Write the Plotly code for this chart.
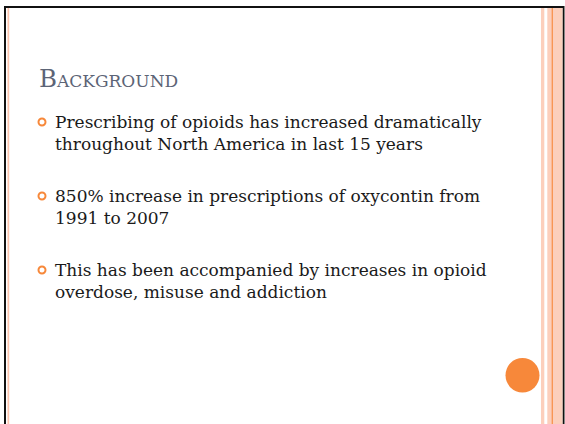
import plotly.graph_objects as go

W, H = 565, 424

title_text = ["Background"]
bullet_lines = [
    ["Prescribing of opioids has increased dramatically", "throughout North America in last 15 years"],
    ["850% increase in prescriptions of oxycontin from", "1991 to 2007"],
    ["This has been accompanied by increases in opioid", "overdose, misuse and addiction"],
]
bullet_y = [122, 196, 270]

ORANGE = "#f7883a"
PINK = "#fccfbc"
TEXT = "#1a1a1a"
TITLE = "#5c6476"
FONT = "DejaVu Serif"

fig = go.Figure()
shapes = []
# page border
shapes.append(dict(type="line", x0=5, x1=5, y0=6, y1=430, line=dict(color="#111", width=2)))
shapes.append(dict(type="line", x0=4, x1=564, y0=7, y1=7, line=dict(color="#111", width=2)))
shapes.append(dict(type="line", x0=563.5, x1=563.5, y0=6, y1=430, line=dict(color="#111", width=2)))
# left pink line
shapes.append(dict(type="rect", x0=7.5, x1=9.2, y0=8, y1=430, fillcolor="#fcc4ae", line=dict(width=0)))
# right stripes
shapes.append(dict(type="rect", x0=541, x1=544.3, y0=8, y1=430, fillcolor=PINK, line=dict(width=0)))
shapes.append(dict(type="rect", x0=547.3, x1=562.5, y0=8, y1=430, fillcolor=PINK, line=dict(width=0)))
shapes.append(dict(type="rect", x0=551.7, x1=552.8, y0=8, y1=430, fillcolor=ORANGE, line=dict(width=0)))
# orange circle
shapes.append(dict(type="circle", x0=505.5, x1=539.5, y0=358, y1=392.5, fillcolor=ORANGE, line=dict(width=0)))
# bullet rings
for by in bullet_y:
    shapes.append(dict(type="circle", x0=38.5, x1=45.5, y0=by - 3.5, y1=by + 3.5,
                       fillcolor="rgba(0,0,0,0)", line=dict(color=ORANGE, width=2)))

annotations = [dict(x=37, y=78, text=title_text[0], showarrow=False, xanchor="left", yanchor="middle",
                    font=dict(family=FONT, size=24.5, color=TITLE, variant="small-caps"))]
for lines, by in zip(bullet_lines, bullet_y):
    annotations.append(dict(x=53, y=by + 11, text="<br>".join(lines), showarrow=False, xanchor="left",
                            yanchor="middle", align="left",
                            font=dict(family=FONT, size=17, color=TEXT)))

fig.update_layout(
    width=W, height=H, margin=dict(l=0, r=0, t=0, b=0),
    paper_bgcolor="white", plot_bgcolor="white",
    xaxis=dict(range=[0, W], visible=False, fixedrange=True),
    yaxis=dict(range=[H, 0], visible=False, fixedrange=True),
    shapes=shapes, annotations=annotations, showlegend=False,
)
fig.write_html("out.html", config={"displayModeBar": False},
               post_script="document.body.style.margin='0';document.body.style.overflow='hidden';")
